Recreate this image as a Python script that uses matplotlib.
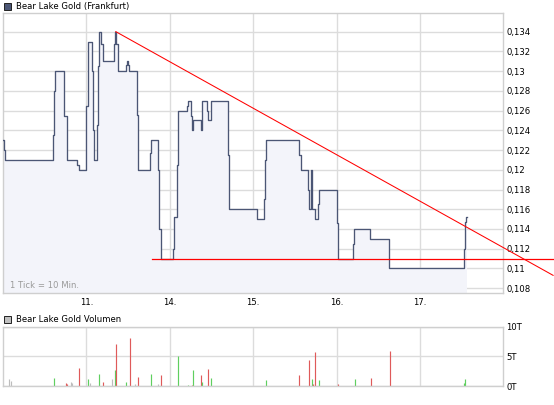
import numpy as np
import matplotlib
matplotlib.use("Agg")
import matplotlib.pyplot as plt
from matplotlib.patches import Rectangle

# ---------------------------
# Data (x in 10-minute ticks, 72 ticks per trading day, day 10. starts at 0)
# ---------------------------
TICKS_PER_DAY = 72
DAY_LABELS = ["11.", "14.", "15.", "16.", "17."]

# tick where a new price starts, and that price
price_tick = [0, 1, 2, 43, 44, 45, 53, 55, 64, 66,
              72, 73, 77, 78, 79, 81, 82, 83, 85, 86,
              96, 97, 98, 99, 106, 107, 108, 109, 116, 117,
              127, 128, 134, 135, 136, 147, 148, 150, 151, 159,
              160, 162, 163, 164, 171, 172, 176, 177, 180, 194,
              195, 219, 225, 226, 227, 256, 257, 263, 264, 266,
              267, 269, 272, 273, 288, 289, 302, 303, 317, 333,
              398, 399, 400]
price_val = [0.123, 0.122, 0.121, 0.1235, 0.128, 0.130, 0.1255, 0.121, 0.1205, 0.120,
             0.1265, 0.133, 0.130, 0.124, 0.121, 0.1245, 0.1305, 0.134, 0.1327, 0.131,
             0.1327, 0.134, 0.1327, 0.130, 0.1306, 0.131, 0.1306, 0.130, 0.1256, 0.120,
             0.1217, 0.123, 0.120, 0.114, 0.111, 0.112, 0.1152, 0.1205, 0.126, 0.1265,
             0.127, 0.1255, 0.124, 0.125, 0.124, 0.127, 0.126, 0.125, 0.127, 0.1215,
             0.116, 0.115, 0.117, 0.121, 0.123, 0.1215, 0.120, 0.118, 0.116, 0.120,
             0.116, 0.115, 0.1165, 0.118, 0.1146, 0.111, 0.1125, 0.114, 0.113, 0.110,
             0.112, 0.1147, 0.1152]
LAST_TICK = 401

# volume bars: tick, shares, direction (u = up, d = down, n = unchanged)
vol_tick = [5, 7, 44, 54, 55, 59, 60, 66, 73, 75,
            83, 86, 94, 97, 98, 106, 110, 114, 117, 128,
            134, 136, 151, 160, 163, 164, 171, 172, 177, 180,
            227, 256, 264, 267, 268, 269, 273, 289, 304, 318,
            334, 398, 399]
vol_amount = [1180, 900, 1350, 560, 340, 730, 560, 3030, 1180, 560,
              2000, 730, 1180, 2700, 7100, 730, 8100, 340, 1500, 2000,
              340, 1850, 5060, 170, 170, 2700, 1850, 670, 2870, 1350,
              1000, 1850, 4400, 1180, 340, 5700, 1000, 340, 1180, 1350,
              5900, 560, 1180]
vol_dir = ['n', 'n', 'u', 'd', 'd', 'n', 'n', 'd', 'u', 'n',
           'u', 'd', 'n', 'u', 'd', 'u', 'd', 'n', 'd', 'u',
           'n', 'd', 'u', 'u', 'd', 'u', 'd', 'u', 'd', 'u',
           'u', 'd', 'd', 'u', 'd', 'd', 'u', 'd', 'u', 'd',
           'd', 'u', 'u']

# trend lines (tick, price)
resist_tick = [97.4, 475]
resist_val = [0.134, 0.1093]
support_tick = [128.3, 475]
support_val = [0.111, 0.111]

Y_TICKS = [0.108, 0.110, 0.112, 0.114, 0.116, 0.118, 0.120, 0.122,
           0.124, 0.126, 0.128, 0.130, 0.132, 0.134]
Y_LIM = (0.10748, 0.13586)

LINE_COL = '#4b5675'
FILL_COL = '#f3f4fa'
GRID_COL = '#dcdcdc'
SPINE_COL = '#cfcfcf'
VOL_COLS = {'u': '#5fcf5f', 'd': '#df5a5a', 'n': '#bdbdbd'}

W, H = 554, 405


def fmt_price(v):
    s = f"{v:.3f}".rstrip('0')
    return s.replace('.', ',')


fig = plt.figure(figsize=(W / 100, H / 100), dpi=100)
fig.patch.set_facecolor('white')

# ---------------------------
# Price panel
# ---------------------------
ax = fig.add_axes([3 / W, 1 - 293.3 / H, 500.3 / W, 280 / H])
x = np.array(price_tick + [LAST_TICK])
y = np.array(price_val + [price_val[-1]])
ax.fill_between(x, y, Y_LIM[0], step='post', color=FILL_COL, lw=0, zorder=1)
ax.step(x, y, where='post', color=LINE_COL, lw=0.95, zorder=3)

ax.plot(resist_tick, resist_val, color='red', lw=0.75, clip_on=False, zorder=4)
ax.plot(support_tick, support_val, color='red', lw=0.9, clip_on=False, zorder=4)

ax.set_xlim(0, 6 * TICKS_PER_DAY)
ax.set_ylim(*Y_LIM)
ax.set_yticks(Y_TICKS)
ax.set_yticklabels([fmt_price(v) for v in Y_TICKS])
ax.set_xticks([TICKS_PER_DAY * i for i in range(1, 6)])
ax.set_xticklabels(DAY_LABELS)
ax.yaxis.tick_right()
ax.tick_params(axis='both', length=0, labelsize=6.1, colors='black')
ax.tick_params(axis='y', pad=2.2)
ax.tick_params(axis='x', pad=3.5)
ax.grid(True, color=GRID_COL, lw=1.0, zorder=0)
ax.set_axisbelow(True)
for sp in ax.spines.values():
    sp.set_color(SPINE_COL)
    sp.set_linewidth(1.0)
ax.text(0.014, 0.027, "1 Tick = 10 Min.", transform=ax.transAxes, fontsize=6.1,
        color='#9a9a9a', va='center', ha='left')

# ---------------------------
# Volume panel
# ---------------------------
axv = fig.add_axes([3 / W, 1 - 386 / H, 500.3 / W, 59.3 / H])
axv.vlines(vol_tick, 0, vol_amount, colors=[VOL_COLS[d] for d in vol_dir], lw=0.85)
axv.set_xlim(0, 6 * TICKS_PER_DAY)
axv.set_ylim(0, 10000)
axv.set_yticks([0, 5000, 10000])
axv.set_yticklabels(['0T', '5T', '10T'])
axv.set_xticks([TICKS_PER_DAY * i for i in range(1, 6)])
axv.set_xticklabels([])
axv.yaxis.tick_right()
axv.tick_params(axis='both', length=0, labelsize=6.1, colors='black')
axv.tick_params(axis='y', pad=2.2)
axv.grid(True, color=GRID_COL, lw=1.0, zorder=0)
axv.set_axisbelow(True)
for sp in axv.spines.values():
    sp.set_color(SPINE_COL)
    sp.set_linewidth(1.0)

# ---------------------------
# Panel titles with legend squares
# ---------------------------
fig.add_artist(Rectangle((4 / W, 1 - 10 / H), 7 / W, 7 / H, transform=fig.transFigure,
                         facecolor=LINE_COL, edgecolor='#222222', lw=0.7))
fig.text(15.5 / W, 1 - 6.5 / H, "Bear Lake Gold (Frankfurt)", fontsize=6.1, va='center', ha='left')

fig.add_artist(Rectangle((4 / W, 1 - 322.5 / H), 7 / W, 7 / H, transform=fig.transFigure,
                         facecolor='#c0c0c0', edgecolor='#222222', lw=0.7))
fig.text(15.5 / W, 1 - 319 / H, "Bear Lake Gold Volumen", fontsize=6.1, va='center', ha='left')

fig.savefig("out.png", dpi=100, facecolor='white')
